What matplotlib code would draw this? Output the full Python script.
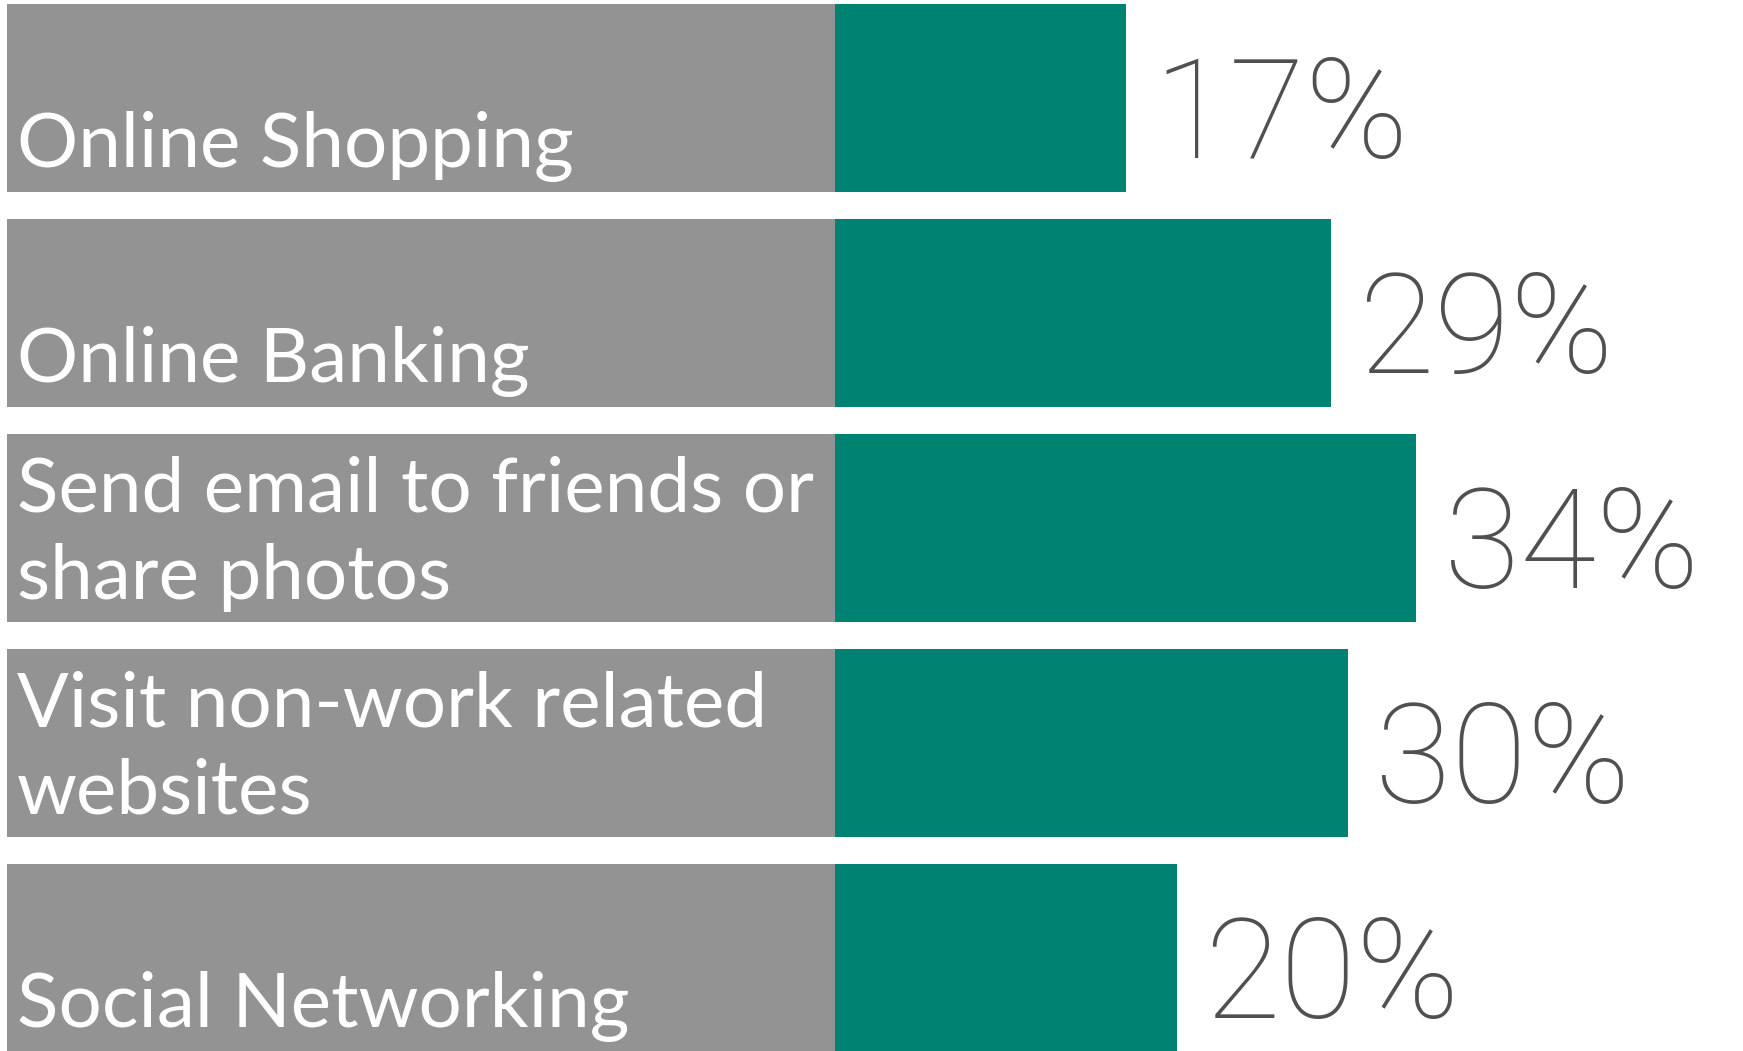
import matplotlib
matplotlib.use('Agg')
import matplotlib.pyplot as plt

# データ
categories = [
    'Online Shopping',
    'Online Banking',
    'Send email to friends or\nshare photos',
    'Visit non-work related\nwebsites',
    'Social Networking',
]
values = [17, 29, 34, 30, 20]
value_labels = ['17%', '29%', '34%', '30%', '20%']

gray = '#939393'
green = '#008272'
text_gray = '#505050'

label_width = 48.4   # グレーのラベル部分の幅（%単位）
bar_height = 0.875

fig = plt.figure(figsize=(17.43, 10.51), dpi=100)
ax = fig.add_axes([0, 0, 1, 1])

ypos = list(range(len(categories)))

# グレーのラベル部分 + 緑の値部分
ax.barh(ypos, [label_width] * len(values), height=bar_height, color=gray, left=0)
ax.barh(ypos, values, height=bar_height, color=green, left=label_width)

for y, cat, v, lab in zip(ypos, categories, values, value_labels):
    ax.annotate(cat, xy=(0, y + bar_height / 2), xytext=(10, 10), textcoords='offset pixels',
                ha='left', va='bottom', color='white', fontsize=55,
                family='Lato', linespacing=1.33, annotation_clip=False)
    ax.text(label_width + v + 1.6, y + 0.28, lab, ha='left', va='baseline',
            color=text_gray, fontsize=100, family='Roboto', fontweight='light')

ax.set_xlim(-0.4, 101.5)
ax.set_ylim(4.433, -0.456)
ax.axis('off')

fig.savefig('out.png', dpi=100)
